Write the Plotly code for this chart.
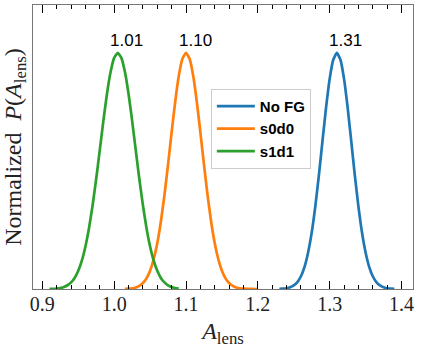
import plotly.graph_objects as go

# values (normalized posterior heights)
no_fg_x = [1.230, 1.235, 1.240, 1.245, 1.250, 1.255, 1.260, 1.265, 1.270, 1.275, 1.280,
           1.285, 1.290, 1.295, 1.300, 1.305, 1.310, 1.315, 1.320, 1.325, 1.330,
           1.335, 1.340, 1.345, 1.350, 1.355, 1.360, 1.365, 1.370, 1.375, 1.380,
           1.385, 1.390]
no_fg_y = [0.0006, 0.0014, 0.0033, 0.0072, 0.0150, 0.0293, 0.054, 0.094, 0.155, 0.239, 0.350,
           0.482, 0.627, 0.769, 0.890, 0.971, 1.0, 0.971, 0.890, 0.769, 0.627,
           0.482, 0.350, 0.239, 0.155, 0.094, 0.054, 0.0293, 0.0150, 0.0072, 0.0033,
           0.0014, 0.0006]

s0d0_x = [1.015, 1.020, 1.025, 1.030, 1.035, 1.040, 1.045, 1.050, 1.055, 1.060,
          1.065, 1.070, 1.075, 1.080, 1.085, 1.090, 1.095, 1.100, 1.105, 1.110,
          1.115, 1.120, 1.125, 1.130, 1.135, 1.140, 1.145, 1.150, 1.155, 1.160,
          1.165, 1.170, 1.175, 1.180, 1.185, 1.190, 1.195, 1.200]
s0d0_y = [0.0006, 0.0014, 0.0032, 0.0066, 0.0132, 0.0251, 0.0452, 0.0774, 0.126, 0.194,
          0.285, 0.398, 0.527, 0.664, 0.794, 0.903, 0.975, 1.0, 0.975, 0.903,
          0.794, 0.664, 0.527, 0.398, 0.285, 0.194, 0.126, 0.0774, 0.0452, 0.0251,
          0.0132, 0.0066, 0.0032, 0.0014, 0.0006, 0.0003, 0.0001, 0.0]

s1d1_x = [0.910, 0.915, 0.920, 0.925, 0.930, 0.935, 0.940, 0.945, 0.950, 0.955,
          0.960, 0.965, 0.970, 0.975, 0.980, 0.985, 0.990, 0.995, 1.000, 1.005,
          1.010, 1.015, 1.020, 1.025, 1.030, 1.035, 1.040, 1.045, 1.050, 1.055,
          1.060, 1.065, 1.070, 1.075, 1.080, 1.085, 1.090]
s1d1_y = [0.0005, 0.0011, 0.0022, 0.0044, 0.0085, 0.0158, 0.028, 0.047, 0.077, 0.120,
          0.180, 0.258, 0.355, 0.467, 0.589, 0.713, 0.827, 0.919, 0.979, 1.0,
          0.979, 0.919, 0.827, 0.713, 0.589, 0.467, 0.355, 0.258, 0.180, 0.120,
          0.077, 0.047, 0.028, 0.0158, 0.0085, 0.0044, 0.0022]

names = ["No FG", "s0d0", "s1d1"]
colors = ["#1f77b4", "#ff7f0e", "#2ca02c"]
peak_labels = ["1.31", "1.10", "1.01"]

series = [(no_fg_x, no_fg_y), (s0d0_x, s0d0_y), (s1d1_x, s1d1_y)]

fig = go.Figure()
for (xs, ys), name, col in zip(series, names, colors):
    fig.add_trace(go.Scatter(
        x=xs, y=ys, mode="lines", name="<b>%s</b>" % name,
        line=dict(color=col, width=2.7, shape="spline", smoothing=0.5),
    ))

# value printed above each peak
for (xs, ys), lab in zip(series, peak_labels):
    i = ys.index(max(ys))
    fig.add_annotation(
        x=xs[i], y=ys[i], text=lab, showarrow=False,
        xanchor="center", yanchor="bottom", xshift=9, yshift=1,
        font=dict(family="Liberation Sans", size=17, color="black"),
    )

axis_common = dict(
    showline=True, linecolor="#777", linewidth=1, mirror="allticks",
    showgrid=False, zeroline=False, automargin=False,
)

fig.update_layout(
    width=421, height=348,
    margin=dict(l=33, r=8, t=5, b=59),
    paper_bgcolor="white", plot_bgcolor="white",
    font=dict(family="Liberation Serif", size=20, color="#222"),
    xaxis=dict(
        range=[0.887, 1.416], dtick=0.1, tick0=0.9, tickformat=".1f",
        ticks="inside", ticklen=8, tickwidth=1.3, tickcolor="black",
        ticklabelstandoff=-3,
        minor=dict(ticks="inside", dtick=0.02, tick0=0.9, ticklen=4, tickcolor="black"),
        title=dict(text="<i>A</i><sub>lens</sub>", standoff=9),
        **axis_common,
    ),
    yaxis=dict(
        range=[0, 1.203], showticklabels=False, ticks="",
        title=dict(text="Normalized  <i>P</i>(<i>A</i><sub>lens</sub>)", standoff=8),
        **axis_common,
    ),
    legend=dict(
        x=0.468, y=0.705, xanchor="left", yanchor="top",
        bgcolor="white", bordercolor="#ccc", borderwidth=1,
        itemwidth=38,
        font=dict(family="Liberation Sans", size=15, color="black"),
    ),
)

# the page body has an 8px default margin; drop it so the figure sits at the corner
fig.write_html(
    "out.html",
    config={"displayModeBar": False},
    post_script="document.body.style.margin='0px';",
)
